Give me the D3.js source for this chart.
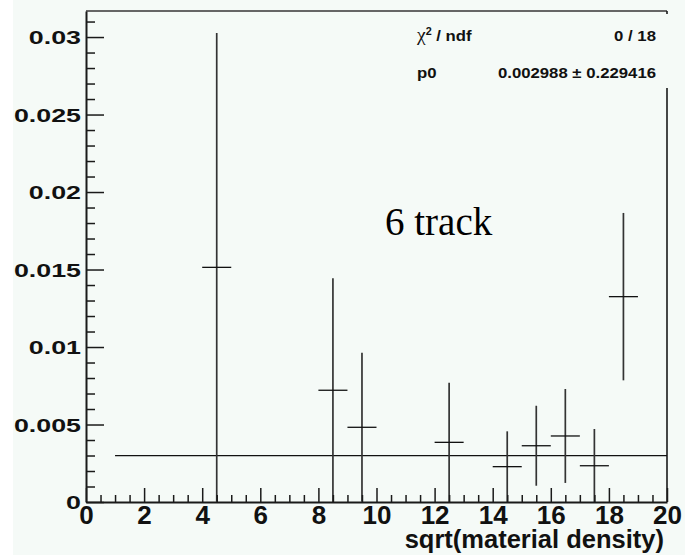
<!DOCTYPE html>
<html>
<head>
<meta charset="utf-8">
<script src="https://cdn.jsdelivr.net/npm/d3@7"></script>
<style>
  html, body { margin: 0; padding: 0; background: #ffffff; }
  svg { display: block; }
</style>
</head>
<body>
<svg id="chart" width="685" height="555"></svg>
<script>
// ---- data ----
const binCenters = [4.5, 8.5, 9.5, 12.5, 14.5, 15.5, 16.5, 17.5, 18.5];
const binValues  = [0.01514, 0.00721, 0.00482, 0.00385, 0.00228, 0.00363, 0.00426, 0.00234, 0.01325];
const binErrors  = [0.01512, 0.00722, 0.00481, 0.00385, 0.00228, 0.00258, 0.00303, 0.00237, 0.00540];
const binWidth = 1;
const fitValue = 0.002988;
const fitRange = [1, 20];
const xMajorTicks = [0, 2, 4, 6, 8, 10, 12, 14, 16, 18, 20];
const yMajorTicks = [0, 0.005, 0.01, 0.015, 0.02, 0.025, 0.03];
const yTickLabels = ["0", "0.005", "0.01", "0.015", "0.02", "0.025", "0.03"];
const statsLabels = ["\u03C7\u00B2 / ndf", "p0"];
const statsValues = ["0 / 18", "0.002988 \u00B1 0.229416"];
const xTitle = "sqrt(material density)";
const annotation = "6 track";

const bg = "#f5faf7";
const svg = d3.select("#chart");

// background (white strip on left as in reference)
svg.append("rect").attr("x", 13).attr("y", 0).attr("width", 672).attr("height", 555).attr("fill", bg);

const x = d3.scaleLinear().domain([0, 20]).range([86, 667]);
const y = d3.scaleLinear().domain([0, 0.03168]).range([502, 11]);

const axisColor = "#1a1a1a";

// frame top & right
svg.append("line").attr("x1", x(0)).attr("x2", x(20)).attr("y1", y.range()[1]).attr("y2", y.range()[1])
  .attr("stroke", "#666").attr("stroke-width", 2);
svg.append("line").attr("x1", x(20)).attr("x2", x(20)).attr("y1", y.range()[1]).attr("y2", y(0))
  .attr("stroke", axisColor).attr("stroke-width", 1.6);

// fit line
svg.append("line")
  .attr("x1", x(fitRange[0])).attr("x2", x(fitRange[1]))
  .attr("y1", y(fitValue)).attr("y2", y(fitValue))
  .attr("stroke", "#111").attr("stroke-width", 1.3);

// error bars
const pts = binCenters.map((c, i) => ({c, v: binValues[i], e: binErrors[i]}));
const g = svg.append("g");
g.selectAll("line.v").data(pts).join("line").attr("class", "v")
  .attr("x1", d => x(d.c)).attr("x2", d => x(d.c))
  .attr("y1", d => y(Math.max(0, d.v - d.e))).attr("y2", d => y(d.v + d.e))
  .attr("stroke", "#333").attr("stroke-width", 1.7);
g.selectAll("line.h").data(pts).join("line").attr("class", "h")
  .attr("x1", d => x(d.c - binWidth / 2)).attr("x2", d => x(d.c + binWidth / 2))
  .attr("y1", d => y(d.v)).attr("y2", d => y(d.v))
  .attr("stroke", "#111").attr("stroke-width", 1.3);

// stats box (covers part of the right frame, like the reference)
svg.append("rect").attr("x", 400).attr("y", 14).attr("width", 285).attr("height", 74).attr("fill", bg);
const statsFont = "'Liberation Sans', Arial, Helvetica, sans-serif";
const statRows = [41, 78];
statsLabels.forEach((lab, i) => {
  const t = svg.append("text")
    .attr("transform", `translate(417,${statRows[i]}) scale(1.08,1)`)
    .attr("font-family", statsFont).attr("font-size", 15.5).attr("font-weight", "bold").attr("fill", "#111");
  if (i === 0) {
    t.append("tspan").attr("font-family", "'Liberation Serif', serif").attr("font-weight", "normal").attr("font-size", 18).text("\u03C7");
    t.append("tspan").attr("font-size", 10).attr("dy", -6).attr("font-weight", "bold").text("2");
    t.append("tspan").attr("dy", 6).text(" / ndf");
  } else {
    t.text(lab);
  }
  svg.append("text")
    .attr("transform", `translate(656,${statRows[i]}) scale(1.08,1)`)
    .attr("text-anchor", "end")
    .attr("font-family", statsFont).attr("font-size", 15.5).attr("font-weight", "bold").attr("fill", "#111")
    .text(statsValues[i]);
});

// axes
const labelFont = "'Liberation Sans', Arial, Helvetica, sans-serif";

// x minor ticks
const xMinor = d3.range(0, 20.001, 0.5).filter(v => !xMajorTicks.includes(v));
svg.append("g").attr("transform", `translate(0,${y(0)})`)
  .call(d3.axisBottom(x).tickValues(xMinor).tickSizeInner(-7).tickSizeOuter(0).tickFormat(""))
  .call(s => s.select(".domain").remove())
  .call(s => s.selectAll("line").attr("stroke", axisColor).attr("stroke-width", 1.5));
// x major
const xAxisG = svg.append("g").attr("transform", `translate(0,${y(0)})`)
  .call(d3.axisBottom(x).tickValues(xMajorTicks).tickSizeInner(-14).tickSizeOuter(0).tickPadding(3).tickFormat(d3.format("d")));
xAxisG.select(".domain").attr("stroke", axisColor).attr("stroke-width", 2);
xAxisG.selectAll("line").attr("stroke", axisColor).attr("stroke-width", 1.5);
xAxisG.selectAll("text").attr("font-family", labelFont).attr("font-size", 26).attr("font-weight", "bold")
  .attr("fill", "#111").attr("dy", "0.72em");

// y minor ticks
const yMinor = d3.range(0, 0.0311, 0.001).map(v => +v.toFixed(3)).filter(v => !yMajorTicks.some(m => Math.abs(m - v) < 1e-9));
svg.append("g").attr("transform", `translate(${x(0)},0)`)
  .call(d3.axisLeft(y).tickValues(yMinor).tickSizeInner(-9).tickSizeOuter(0).tickFormat(""))
  .call(s => s.select(".domain").remove())
  .call(s => s.selectAll("line").attr("stroke", axisColor).attr("stroke-width", 1.5));
// y major
const yAxisG = svg.append("g").attr("transform", `translate(${x(0)},0)`)
  .call(d3.axisLeft(y).tickValues(yMajorTicks).tickSizeInner(-18).tickSizeOuter(0)
    .tickFormat((d, i) => yTickLabels[i]));
yAxisG.select(".domain").attr("stroke", axisColor).attr("stroke-width", 2);
yAxisG.selectAll("line").attr("stroke", axisColor).attr("stroke-width", 1.5);
const ySx = 1.45;
yAxisG.selectAll("text").attr("font-family", labelFont).attr("font-size", 18.5).attr("font-weight", "bold")
  .attr("fill", "#111").attr("x", -5 / ySx).attr("dy", "0.36em").attr("transform", `scale(${ySx},1)`);

// x title
svg.append("text").attr("x", 664).attr("y", 548).attr("text-anchor", "end")
  .attr("font-family", labelFont).attr("font-size", 25.5).attr("font-weight", "bold").attr("fill", "#111")
  .text(xTitle);

// annotation
svg.append("text").attr("x", 385).attr("y", 235)
  .attr("font-family", "'Liberation Serif', 'Times New Roman', serif").attr("font-size", 39).attr("fill", "#000")
  .text(annotation);
</script>
</body>
</html>
